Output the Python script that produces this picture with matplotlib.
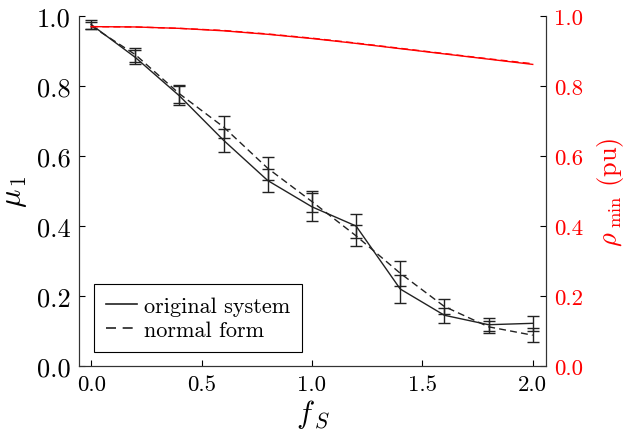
import matplotlib
matplotlib.use("Agg")
import matplotlib.pyplot as plt
from matplotlib.lines import Line2D

plt.rcParams['font.family'] = 'serif'
plt.rcParams['font.serif'] = ['cmr10', 'DejaVu Serif']
plt.rcParams['mathtext.fontset'] = 'cm'
plt.rcParams['axes.formatter.use_mathtext'] = True

f_s = [0.0, 0.2, 0.4, 0.6, 0.8, 1.0, 1.2, 1.4, 1.6, 1.8, 2.0]
mu_orig = [0.976, 0.882, 0.772, 0.645, 0.530, 0.455, 0.400, 0.220, 0.145, 0.118, 0.122]
mu_orig_err = [0.012, 0.020, 0.027, 0.032, 0.032, 0.040, 0.035, 0.040, 0.022, 0.018, 0.022]
mu_nf = [0.972, 0.890, 0.778, 0.683, 0.565, 0.470, 0.372, 0.265, 0.170, 0.112, 0.088]
mu_nf_err = [0.010, 0.020, 0.025, 0.032, 0.032, 0.030, 0.030, 0.035, 0.022, 0.018, 0.020]
rho_orig = [0.970, 0.969, 0.965, 0.958, 0.948, 0.936, 0.922, 0.907, 0.892, 0.877, 0.862]
rho_nf = [0.970, 0.969, 0.965, 0.959, 0.949, 0.937, 0.923, 0.908, 0.893, 0.878, 0.864]

xticks = [0.0, 0.5, 1.0, 1.5, 2.0]
xticklabels = ['0.0', '0.5', '1.0', '1.5', '2.0']
yticks = [0.0, 0.2, 0.4, 0.6, 0.8, 1.0]
yticklabels = ['0.0', '0.2', '0.4', '0.6', '0.8', '1.0']
legend_labels = ['original system', 'normal form']

fig = plt.figure(figsize=(6.29, 4.39), dpi=100)
ax = fig.add_axes([0.1256, 0.164, 0.7424, 0.797])
ax2 = ax.twinx()

dark = '#222222'
dash = (0, (5, 3))
ax.errorbar(f_s, mu_orig, yerr=mu_orig_err, color=dark, lw=1.0, ls='-',
            capsize=4, elinewidth=1.0, capthick=1.0)
ax.errorbar(f_s, mu_nf, yerr=mu_nf_err, color=dark, lw=1.0, ls=dash,
            capsize=4, elinewidth=1.0, capthick=1.0)

ax2.plot(f_s, rho_orig, color='red', lw=1.0, ls='-')
ax2.plot(f_s, rho_nf, color='red', lw=1.0, ls=dash)

for a in (ax, ax2):
    a.set_xlim(-0.055, 2.06)
    a.set_ylim(0, 1.0)
    a.spines['top'].set_visible(False)
    for s in a.spines.values():
        s.set_color('#333333')
ax.set_xticks(xticks)
ax.set_xticklabels(xticklabels)
ax.set_yticks(yticks)
ax.set_yticklabels(yticklabels)
ax2.set_yticks(yticks)
ax2.set_yticklabels(yticklabels)
ax.tick_params(direction='in', length=4, top=False, right=False, pad=6)
ax.tick_params(axis='y', labelsize=19)
ax.tick_params(axis='x', labelsize=16.5)
ax2.tick_params(direction='in', length=4, labelsize=16.5, labelcolor='red',
                color='black', pad=6)

ax.set_xlabel(r'$f_{\,S}$', fontsize=22, labelpad=2)
ax.set_ylabel(r'$\mu_{\,1}$', fontsize=22, labelpad=6)
ax2.set_ylabel(r'$\rho_{\ \mathrm{min}}$ (pu)', fontsize=19, color='red', labelpad=8)

handles = [Line2D([], [], color=dark, lw=1.2, ls='-'),
           Line2D([], [], color=dark, lw=1.2, ls=(0, (6, 4)))]
leg = ax.legend(handles, legend_labels, loc='lower left', fontsize=16, fancybox=False,
                edgecolor='black', framealpha=1, handlelength=1.4,
                handletextpad=0.3, borderpad=0.55, labelspacing=0.2,
                borderaxespad=0, bbox_to_anchor=(0.032, 0.04))
leg.get_frame().set_linewidth(0.8)

fig.savefig('out.png', dpi=100)
